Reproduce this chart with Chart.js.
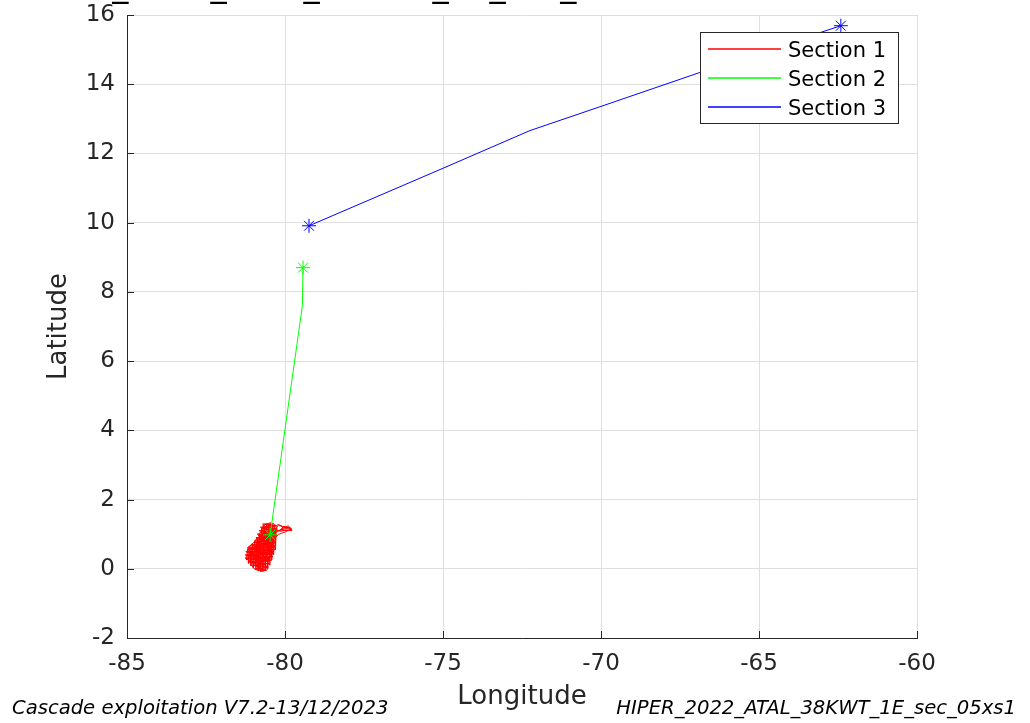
<!DOCTYPE html>
<html>
<head>
<meta charset="utf-8">
<script src="https://cdn.jsdelivr.net/npm/chart.js@4/dist/chart.umd.min.js"></script>
<style>
html,body{margin:0;padding:0;background:#fff;overflow:hidden;}
#c{display:block;}
</style>
</head>
<body>
<canvas id="c" width="1030" height="723"></canvas>
<script>
// ---- data ----
const seriesNames = ['Section 1', 'Section 2', 'Section 3'];
const seriesColors = ['#ff0000', '#00ff00', '#0000ff'];

const section1Lon = [-80.47,-80.60,-80.70,-80.55,-80.35,-80.20,-80.05,-79.85,-79.78,-79.95,-80.15,-80.30,-80.40,-80.55,-80.70,-80.85,-80.80,-80.65,-80.50,-80.38,-80.45,-80.60,-80.75,-80.90,-81.05,-81.20,-81.25,-81.10,-80.95,-80.80,-80.65,-80.58,-80.70,-80.85,-81.00,-81.15,-81.00,-80.85,-80.70,-80.55,-80.42,-80.30,-80.40,-80.60,-80.75,-80.68,-80.50,-80.38,-80.25,-80.35,-80.48,-80.62,-80.78,-80.92,-80.88,-80.72,-80.58,-80.50,-80.62,-80.78,-80.95,-81.08,-80.98,-80.82,-80.70,-80.62,-80.48,-80.35,-80.45,-80.58,-80.72,-80.88,-80.95,-81.05,-81.18,-81.10,-80.95,-80.80,-80.68,-80.55,-80.42,-80.33,-80.40,-80.52,-80.65,-80.58,-80.42,-80.28,-80.10,-79.90,-79.80,-80.00,-80.20,-80.32,-80.45,-80.60,-80.75,-80.90,-81.02,-81.15,-81.05,-80.90,-80.75,-80.60,-80.52,-80.65,-80.80,-80.92,-80.82,-80.70,-80.55,-80.40,-80.48,
  -80.70,-80.30,-80.78,-80.26,-80.82,-80.27,-80.88,-80.26,-80.92,-80.28,-80.98,-80.30,-81.08,-80.31,-81.18,-80.33,-81.24,-80.35,-81.26,-80.38,-81.24,-80.42,-81.18,-80.48,-81.08,-80.52,-80.95,-80.58,-80.78,
  -80.70,-80.90,-80.62,-81.00,-80.55,-81.12,-80.50,-81.20,-80.45,-81.22,-80.40,-81.15,-80.38,-81.05,-80.36,-80.95,-80.34,-80.90,-80.32,-80.85,-80.30,-80.80,-80.30,-80.75,-80.35,-80.65,-80.45,
  -81.22,-81.18,-81.15,-81.11,-81.08,-81.04,-81.00,-80.96,-80.92,-80.88,-80.85,-80.81,-80.78,-80.74,-80.70,-80.66,-80.62,-80.58,-80.55,-80.51,-80.48,-80.45,-80.42,-80.39,-80.36,-80.33,-80.30,-80.28,
  -80.20,-79.95,-79.78,-79.90,-80.15,-80.05,-79.85,-80.30,-80.62,-80.84,-80.72,-80.98,-81.12,-80.86,-80.66,-80.50,-80.66,-80.47];
const section1Lat = [0.98,1.10,1.25,1.30,1.22,1.28,1.20,1.18,1.10,1.12,1.08,1.15,1.05,0.92,0.85,0.78,0.62,0.55,0.60,0.48,0.32,0.25,0.30,0.40,0.48,0.40,0.30,0.22,0.15,0.05,-0.05,0.08,0.18,0.25,0.35,0.55,0.62,0.50,0.42,0.50,0.68,0.80,0.92,0.98,1.05,1.18,1.20,1.32,1.18,0.98,0.82,0.72,0.70,0.72,0.58,0.48,0.38,0.22,0.12,0.15,0.28,0.12,0.00,-0.06,0.02,0.20,0.35,0.55,0.75,0.85,0.95,0.90,0.80,0.70,0.62,0.45,0.42,0.35,0.28,0.30,0.42,0.62,0.80,1.02,1.08,1.22,1.15,1.05,1.15,1.24,1.16,1.06,1.00,0.88,0.58,0.45,0.55,0.65,0.55,0.32,0.25,0.10,-0.02,0.00,0.15,0.35,0.45,0.52,0.80,0.92,0.75,0.62,0.45,
  1.30,1.26,1.20,1.16,1.10,1.05,1.00,0.95,0.90,0.85,0.80,0.75,0.70,0.65,0.60,0.55,0.50,0.45,0.40,0.35,0.30,0.25,0.20,0.15,0.10,0.05,0.00,-0.04,-0.08,
  -0.02,0.08,0.12,0.18,0.22,0.28,0.32,0.38,0.42,0.48,0.52,0.57,0.62,0.66,0.72,0.76,0.82,0.86,0.92,0.96,1.02,1.06,1.12,1.16,1.22,1.28,1.33,
  0.25,0.58,0.15,0.66,0.08,0.73,0.02,0.80,-0.02,0.90,-0.05,1.02,-0.07,1.16,-0.08,1.25,-0.06,1.29,-0.02,1.30,0.10,1.29,0.25,1.26,0.40,1.23,0.55,1.20,
  1.25,1.20,1.14,1.10,1.12,1.22,1.19,1.08,0.90,0.68,0.46,0.36,0.20,0.04,0.26,0.58,0.84,0.98];

const section2Lon = [-80.47, -79.45, -79.43];
const section2Lat = [0.98, 7.60, 8.70];

const section3Lon = [-79.24, -75.03, -72.25, -70.03, -66.87, -62.41];
const section3Lat = [9.91, 11.56, 12.66, 13.35, 14.34, 15.69];

const xTicks = [-85, -80, -75, -70, -65, -60];
const yTicks = [-2, 0, 2, 4, 6, 8, 10, 12, 14, 16];

const chartTitle = 'HIPER_2022_ATAL_38KWT_1E_sec_05xs1';
const footLeft = 'Cascade exploitation V7.2-13/12/2023';
const footRight = 'HIPER_2022_ATAL_38KWT_1E_sec_05xs1';

// ---- build ----
const lonSets = [section1Lon, section2Lon, section3Lon];
const latSets = [section1Lat, section2Lat, section3Lat];
const FONT = '"DejaVu Sans", sans-serif';
const INK = '#262626';

const datasets = seriesNames.map((name, i) => ({
  label: name,
  data: lonSets[i].map((x, k) => ({x: x, y: latSets[i][k]})),
  borderColor: seriesColors[i],
  backgroundColor: seriesColors[i],
  borderWidth: 1,
  showLine: true,
  fill: false,
  tension: 0,
  order: 3 - i,
  clip: 10,
  pointStyle: 'star',
  pointBorderWidth: 1,
  pointRadius: (ctx) => (ctx.dataIndex === 0 || ctx.dataIndex === lonSets[i].length - 1) ? 7 : 0,
  pointHoverRadius: 0
}));

const extras = {
  id: 'extras',
  afterDraw(chart) {
    const ctx = chart.ctx;
    const xs = chart.scales.x, ys = chart.scales.y;
    const area = chart.chartArea;
    ctx.save();
    // inward tick marks
    ctx.strokeStyle = INK;
    ctx.lineWidth = 1;
    ctx.beginPath();
    xTicks.forEach(v => {
      const p = Math.round(xs.getPixelForValue(v)) + 0.5;
      ctx.moveTo(p, area.bottom); ctx.lineTo(p, area.bottom - 7);
    });
    yTicks.forEach(v => {
      const p = Math.round(ys.getPixelForValue(v)) + 0.5;
      ctx.moveTo(area.left, p); ctx.lineTo(area.left + 7, p);
    });
    ctx.stroke();

    // legend
    const lx = 700.5, ly = 32.5, lw = 198, lh = 91;
    ctx.fillStyle = '#ffffff';
    ctx.fillRect(lx, ly, lw, lh);
    ctx.strokeStyle = INK;
    ctx.lineWidth = 1;
    ctx.strokeRect(lx, ly, lw, lh);
    ctx.font = '21px ' + FONT;
    ctx.textBaseline = 'middle';
    ctx.textAlign = 'left';
    const rows = [49, 78, 107];
    seriesNames.forEach((name, i) => {
      ctx.save();
      ctx.strokeStyle = seriesColors[i];
      ctx.lineWidth = 1.3;
      ctx.beginPath();
      ctx.moveTo(708, rows[i]);
      ctx.lineTo(781, rows[i]);
      ctx.stroke();
      ctx.restore();
      ctx.fillStyle = '#000000';
      ctx.fillText(name, 788, rows[i] + 3);
    });

    // clipped title at top
    ctx.fillStyle = '#000000';
    ctx.font = '32.3px ' + FONT;
    ctx.textBaseline = 'alphabetic';
    ctx.textAlign = 'left';
    ctx.fillText(chartTitle, 16, -4);

    // footnotes
    ctx.font = 'italic 19.6px ' + FONT;
    ctx.fillStyle = '#000000';
    ctx.textAlign = 'left';
    ctx.fillText(footLeft, 12, 714);
    ctx.textAlign = 'right';
    ctx.fillText(footRight, 1016, 714);
    ctx.restore();
  }
};

new Chart(document.getElementById('c'), {
  type: 'scatter',
  data: { datasets: datasets },
  options: {
    responsive: false,
    animation: false,
    devicePixelRatio: 1,
    layout: { padding: { top: 15, right: 113, left: 0, bottom: 0 } },
    plugins: { legend: { display: false }, tooltip: { enabled: false }, title: { display: false } },
    scales: {
      x: {
        type: 'linear', position: 'bottom', min: -85, max: -60,
        afterBuildTicks: (s) => { s.ticks = xTicks.map(v => ({value: v})); },
        afterFit: (s) => { s.height = 85; s.paddingLeft = 0; s.paddingRight = 0; },
        ticks: { font: { family: FONT, size: 23 }, color: INK, padding: 12, maxRotation: 0 },
        grid: { color: '#dfdfdf', drawTicks: false },
        border: { display: true, color: INK, width: 1 },
        title: { display: true, text: 'Longitude', font: { family: FONT, size: 26 }, color: INK, padding: { top: 0, bottom: 10 } }
      },
      y: {
        type: 'linear', position: 'left', min: -2, max: 16,
        afterBuildTicks: (s) => { s.ticks = yTicks.map(v => ({value: v})); },
        afterFit: (s) => { s.width = 127; s.paddingTop = 0; s.paddingBottom = 0; },
        ticks: { font: { family: FONT, size: 23 }, color: INK, padding: 12 },
        grid: { color: '#dfdfdf', drawTicks: false },
        border: { display: true, color: INK, width: 1 },
        title: { display: true, text: 'Latitude', font: { family: FONT, size: 26 }, color: INK, padding: { top: 44, bottom: 0 } }
      }
    }
  },
  plugins: [extras]
});
</script>
</body>
</html>
